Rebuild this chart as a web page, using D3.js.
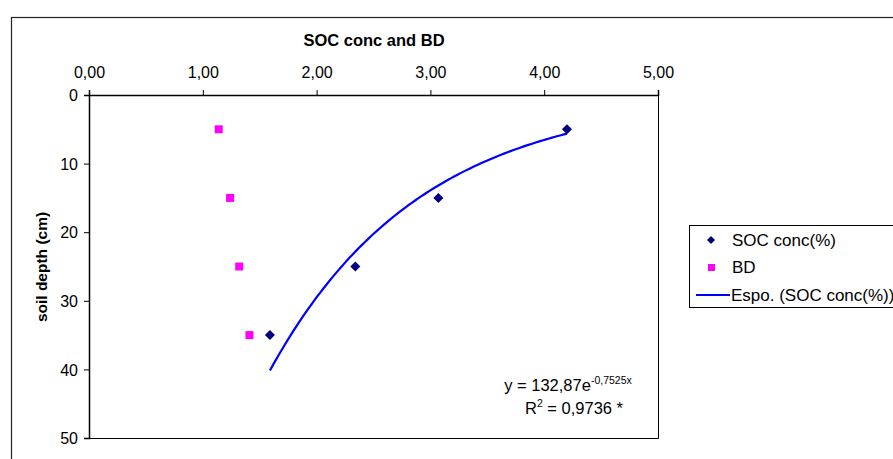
<!DOCTYPE html>
<html>
<head>
<meta charset="utf-8">
<script src="https://cdn.jsdelivr.net/npm/d3@7"></script>
<style>
  body { margin: 0; background: #fff; }
  svg { display: block; font-family: "Liberation Sans", Arial, sans-serif; }
</style>
</head>
<body>
<svg id="chart" width="893" height="459"></svg>
<script>
// Soil profile: SOC concentration and bulk density by depth
const depths = [5, 15, 25, 35];
const socConc = [4.20, 3.07, 2.34, 1.59];
const bulkDensity = [1.14, 1.24, 1.32, 1.41];
const xTicks = [0, 1, 2, 3, 4, 5];
const yTicks = [0, 10, 20, 30, 40, 50];
// exponential fit y = a * e^(b x)
const fitA = 132.87, fitB = -0.7525;
const legendLabels = ["SOC conc(%)", "BD", "Espo. (SOC conc(%))"];

const svg = d3.select("#chart");
const plot = { left: 89, right: 658, top: 95, bottom: 438 };

const x = d3.scaleLinear().domain([0, 5]).range([plot.left, plot.right]);
const y = d3.scaleLinear().domain([0, 50]).range([plot.top, plot.bottom]);

// outer chart frame
svg.append("rect").attr("x", 11.5).attr("y", 17.5).attr("width", 900).attr("height", 460)
  .attr("fill", "#fff").attr("stroke", "#222").attr("stroke-width", 1.2);

// plot area right and bottom borders
svg.append("path")
  .attr("d", `M${plot.left},${plot.bottom + 0.5}H${plot.right + 0.5}V${plot.top}`)
  .attr("fill", "none").attr("stroke", "#000").attr("stroke-width", 1);

// axes
const fmt = d => d.toFixed(2).replace(".", ",");
const xAxis = svg.append("g").attr("transform", `translate(0,${plot.top})`)
  .call(d3.axisTop(x).tickValues(xTicks).tickFormat(fmt).tickSize(5).tickPadding(12));
const yAxis = svg.append("g").attr("transform", `translate(${plot.left},0)`)
  .call(d3.axisLeft(y).tickValues(yTicks).tickFormat(d3.format("d")).tickSize(5).tickPadding(6));

[xAxis, yAxis].forEach(g => {
  g.select(".domain").attr("stroke", "#000").attr("stroke-width", 1.5);
  g.selectAll(".tick line").attr("stroke", "#000");
  g.selectAll(".tick text").attr("font-size", 16).attr("fill", "#000")
    .attr("font-family", "Liberation Sans, Arial, sans-serif");
});
yAxis.selectAll(".tick text").attr("dy", "0.36em");

// titles
svg.append("text").attr("x", 374).attr("y", 46).attr("text-anchor", "middle")
  .attr("font-size", 16.5).attr("font-weight", "bold").text("SOC conc and BD");
svg.append("text").attr("transform", "translate(47,267) rotate(-90)").attr("text-anchor", "middle")
  .attr("font-size", 15.5).attr("font-weight", "bold").text("soil depth (cm)");

// exponential trend line across the SOC range
const xMin = d3.min(socConc), xMax = d3.max(socConc);
const fitPts = d3.range(0, 101).map(i => {
  const xv = xMin + (xMax - xMin) * i / 100;
  return [xv, fitA * Math.exp(fitB * xv)];
});
svg.append("path").datum(fitPts)
  .attr("d", d3.line().x(d => x(d[0])).y(d => y(d[1])))
  .attr("fill", "none").attr("stroke", "#0000FF").attr("stroke-width", 2.2);

// BD squares
svg.selectAll(".bd").data(bulkDensity).join("rect").attr("class", "bd")
  .attr("x", d => x(d) - 4).attr("y", (d, i) => y(depths[i]) - 4)
  .attr("width", 8).attr("height", 8).attr("fill", "#FF00FF");

// SOC diamonds
const diamond = "M0,-5L5,0L0,5L-5,0Z";
svg.selectAll(".soc").data(socConc).join("path").attr("class", "soc")
  .attr("transform", (d, i) => `translate(${x(d)},${y(depths[i])})`)
  .attr("d", diamond).attr("fill", "#000080");

// fit equation
const eq = svg.append("text").attr("x", 568).attr("y", 391).attr("font-size", 16.5)
  .attr("text-anchor", "middle");
eq.append("tspan").text("y = 132,87e");
eq.append("tspan").attr("dy", -7).attr("font-size", 10.5).text("-0,7525x");
const r2 = svg.append("text").attr("x", 574).attr("y", 414).attr("font-size", 16.5)
  .attr("text-anchor", "middle");
r2.append("tspan").text("R");
r2.append("tspan").attr("dy", -7).attr("font-size", 10.5).text("2");
r2.append("tspan").attr("dy", 7).text(" = 0,9736 *");

// legend
const lg = svg.append("g");
lg.append("rect").attr("x", 689.5).attr("y", 225.5).attr("width", 220).attr("height", 82)
  .attr("fill", "#fff").attr("stroke", "#000");
lg.append("path").attr("transform", "translate(711,240)").attr("d", "M0,-4L4,0L0,4L-4,0Z").attr("fill", "#000080");
lg.append("rect").attr("x", 708).attr("y", 264).attr("width", 7).attr("height", 7).attr("fill", "#FF00FF");
lg.append("line").attr("x1", 696).attr("x2", 730).attr("y1", 295).attr("y2", 295)
  .attr("stroke", "#0000FF").attr("stroke-width", 2.2);
[246, 273, 301].forEach((by, i) => {
  lg.append("text").attr("x", i === 2 ? 731 : 732).attr("y", by).attr("font-size", 17)
    .text(legendLabels[i]);
});
</script>
</body>
</html>
